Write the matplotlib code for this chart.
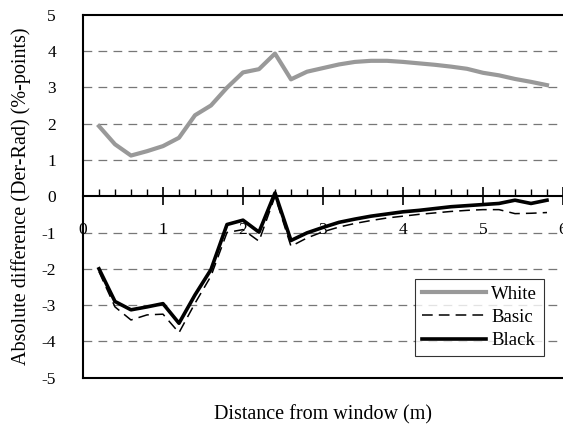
import matplotlib.pyplot as plt
import numpy as np

# distance from window (m)
dist = [0.2, 0.4, 0.6, 0.8, 1.0, 1.2, 1.4, 1.6, 1.8, 2.0, 2.2, 2.4, 2.6, 2.8, 3.0,
        3.2, 3.4, 3.6, 3.8, 4.0, 4.2, 4.4, 4.6, 4.8, 5.0, 5.2, 5.4, 5.6, 5.8]

white = [1.93, 1.43, 1.12, 1.24, 1.38, 1.61, 2.23, 2.50, 2.99, 3.41, 3.50, 3.93, 3.22, 3.43, 3.53,
         3.63, 3.70, 3.73, 3.73, 3.70, 3.66, 3.62, 3.57, 3.51, 3.40, 3.33, 3.23, 3.15, 3.06]
basic = [-2.08, -3.05, -3.41, -3.27, -3.25, -3.76, -2.95, -2.20, -1.00, -0.92, -1.24, 0.0, -1.38, -1.15, -0.98,
         -0.85, -0.75, -0.67, -0.60, -0.55, -0.50, -0.46, -0.42, -0.39, -0.37, -0.37, -0.48, -0.47, -0.45]
black = [-2.00, -2.90, -3.13, -3.05, -2.96, -3.50, -2.72, -2.02, -0.78, -0.66, -0.99, 0.09, -1.22, -1.01, -0.86,
         -0.72, -0.63, -0.55, -0.49, -0.43, -0.39, -0.34, -0.29, -0.26, -0.23, -0.20, -0.11, -0.20, -0.11]

plt.rcParams['font.family'] = ['Liberation Serif', 'DejaVu Serif']
plt.rcParams['axes.unicode_minus'] = False

fig = plt.figure(figsize=(5.63, 4.29), dpi=100)
ax = fig.add_axes([0.1474, 0.1196, 0.8526, 0.8461])

for v in [-4, -3, -2, -1, 1, 2, 3, 4]:
    ax.axhline(v, color='#777777', lw=0.9, dashes=(7, 5), zorder=1)

ax.plot(dist, white, color='#999999', lw=3, label='White', zorder=3)
ax.plot(dist, basic, color='black', lw=1.1, dashes=(7, 4), label='Basic', zorder=3)
ax.plot(dist, black, color='black', lw=2.6, label='Black', zorder=4)

ax.set_xlim(0, 6)
ax.set_ylim(-5, 5)

ax.spines['bottom'].set_position(('data', 0))
ax.spines['right'].set_visible(False)
for s in ['bottom', 'left', 'top']:
    ax.spines[s].set_linewidth(1.5)
ax.axhline(-5, color='black', lw=1.5, clip_on=False)

ax.set_xticks(np.arange(0, 7, 1))
ax.set_xticks(np.arange(0, 6.01, 0.2), minor=True)
ax.set_yticks(np.arange(-5, 6, 1))
ax.tick_params(axis='x', which='major', direction='inout', length=13, width=1.2, pad=12, labelsize=12.5)
ax.tick_params(axis='x', which='minor', direction='in', length=5, width=1.0)
ax.tick_params(axis='y', length=0, pad=19.5, labelsize=12.5)

ax.set_xlabel('Distance from window (m)', fontsize=14.5)
ax.set_ylabel('Absolute difference (Der-Rad) (%-points)', fontsize=14.5)
ax.xaxis.set_label_coords(0.5, -0.076)
ax.yaxis.set_label_coords(-0.108, 0.5)

leg = ax.legend(loc='lower right', bbox_to_anchor=(0.96, 0.06), fontsize=13.5,
                frameon=True, fancybox=False, edgecolor='black', handlelength=3.4,
                borderpad=0.35, labelspacing=0.33, handletextpad=0.3, borderaxespad=0)
leg.get_frame().set_linewidth(0.8)

plt.savefig('out.png', dpi=100)
